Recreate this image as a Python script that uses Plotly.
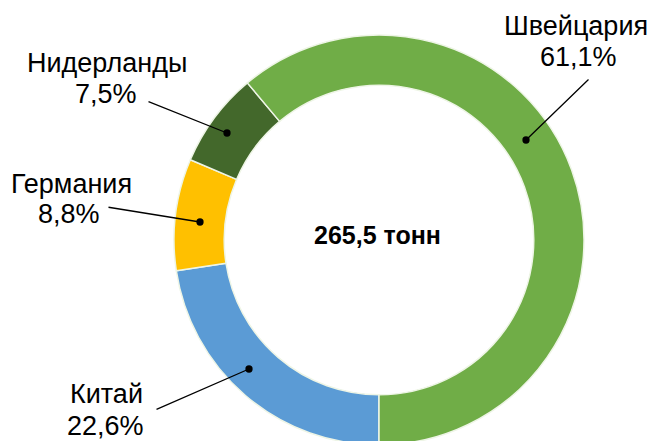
import plotly.graph_objects as go

# share of imports by country, %
countries = ["Китай", "Германия", "Нидерланды", "Швейцария"]
shares = [22.6, 8.8, 7.5, 61.1]
colors = ["#5b9bd5", "#ffc000", "#43682b", "#70ad47"]
total_tonnes = 265.5

W, H = 656, 441
OFF = 8  # page body margin shifts the figure
FONT = "Liberation Sans, Arial, sans-serif"

# label layout in screen pixels: name centre, value centre, leader tail, leader dot
label_pos = {
    "Китай": dict(name=(106, 394), val=(105, 426), tail=(155, 410), dot=(249, 369)),
    "Германия": dict(name=(71, 184), val=(69, 214), tail=(107, 207), dot=(200, 222)),
    "Нидерланды": dict(name=(107, 63), val=(106, 94), tail=(147, 101), dot=(227, 133)),
    "Швейцария": dict(name=(576, 26), val=(578, 57), tail=(590, 78), dot=(526, 140)),
}


def fmt(v):
    return f"{v:.1f}".replace(".", ",")


def px(x, y):
    return (x - OFF) / W, 1 - (y - OFF) / H


cx, cy, r = 379, 240, 205
fig = go.Figure(
    go.Pie(
        labels=countries,
        values=shares,
        hole=0.755,
        sort=False,
        direction="clockwise",
        rotation=180,
        textinfo="none",
        hoverinfo="label+percent",
        marker=dict(colors=colors, line=dict(color="#eef5e6", width=1.5)),
        domain=dict(x=[px(cx - r, 0)[0], px(cx + r, 0)[0]],
                    y=[px(0, cy + r)[1], px(0, cy - r)[1]]),
        showlegend=False,
    )
)

annotations = []
for name, val in zip(countries, shares):
    p = label_pos[name]
    for key, txt in (("name", name), ("val", f"{fmt(val)}%")):
        x, y = px(*p[key])
        annotations.append(dict(
            xref="paper", yref="paper", x=x, y=y, text=txt, showarrow=False,
            xanchor="center", yanchor="middle",
            font=dict(family=FONT, size=27, color="black"),
        ))
    dx, dy = p["dot"]
    lx, ly = p["tail"]
    x, y = px(dx, dy)
    annotations.append(dict(
        xref="paper", yref="paper", x=x, y=y,
        text="", showarrow=True, arrowhead=6, arrowsize=1.4,
        arrowwidth=1.3, arrowcolor="black", standoff=0,
        ax=lx - dx, ay=ly - dy,
    ))

x, y = px(377, 235)
annotations.append(dict(
    xref="paper", yref="paper", x=x, y=y,
    text=f"<b>{fmt(total_tonnes)} тонн</b>", showarrow=False,
    xanchor="center", yanchor="middle",
    font=dict(family=FONT, size=25, color="black"),
))

fig.update_layout(
    width=W,
    height=H,
    margin=dict(l=0, r=0, t=0, b=0),
    paper_bgcolor="white",
    plot_bgcolor="white",
    annotations=annotations,
)

fig.write_html("out.html")
